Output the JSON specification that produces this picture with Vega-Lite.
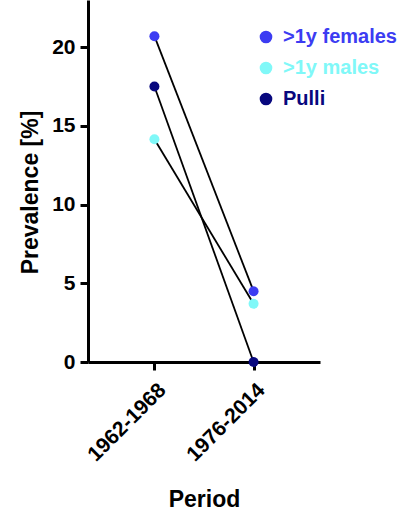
{
  "$schema": "https://vega.github.io/schema/vega-lite/v6.json",
  "autosize": "none",
  "padding": {"left": 88, "top": 0, "right": 80, "bottom": 150},
  "width": 232,
  "height": 362,
  "background": "white",
  "config": {
    "view": {"stroke": null},
    "font": "Liberation Sans",
    "axis": {
      "domainColor": "black", "domainWidth": 3, "tickColor": "black", "tickWidth": 3, "tickSize": 8,
      "labelFont": "Liberation Sans", "labelFontWeight": "bold", "labelFontSize": 21, "labelColor": "black",
      "titleFont": "Liberation Sans", "titleFontWeight": "bold", "titleFontSize": 23, "titleColor": "black",
      "grid": false
    }
  },
  "data": {
    "values": [
      {"period": "1962-1968", "group": ">1y females", "value": 20.7},
      {"period": "1976-2014", "group": ">1y females", "value": 4.5},
      {"period": "1962-1968", "group": ">1y males", "value": 14.15},
      {"period": "1976-2014", "group": ">1y males", "value": 3.7},
      {"period": "1962-1968", "group": "Pulli", "value": 17.5},
      {"period": "1976-2014", "group": "Pulli", "value": 0}
    ]
  },
  "encoding": {
    "x": {
      "field": "period", "type": "ordinal", "title": "Period",
      "scale": {"type": "point", "padding": 0.67},
      "axis": {"labelAngle": -45, "labelPadding": 9, "titlePadding": 24}
    },
    "y": {
      "field": "value", "type": "quantitative", "title": "Prevalence [%]",
      "scale": {"domain": [0, 23], "nice": false},
      "axis": {"values": [0, 5, 10, 15, 20], "labelPadding": 5, "titlePadding": 9, "titleY": 192}
    }
  },
  "layer": [
    {
      "mark": {"type": "line", "color": "black", "strokeWidth": 1.8},
      "encoding": {"detail": {"field": "group"}}
    },
    {
      "mark": {"type": "point", "filled": true, "opacity": 1, "size": 100},
      "encoding": {
        "color": {
          "field": "group", "type": "nominal",
          "scale": {"domain": [">1y females", ">1y males", "Pulli"], "range": ["#3c3cf2", "#80f8f8", "#08087e"]},
          "legend": {
            "title": null, "orient": "none", "legendX": 168, "legendY": 27,
            "symbolType": "circle", "symbolSize": 160, "symbolOpacity": 1,
            "labelFont": "Liberation Sans", "labelFontSize": 20, "labelFontWeight": "bold",
            "labelOffset": 7, "rowPadding": 11,
            "encode": {"labels": {"update": {"fill": {"scale": "color", "field": "value"}}}}
          }
        }
      }
    }
  ]
}
